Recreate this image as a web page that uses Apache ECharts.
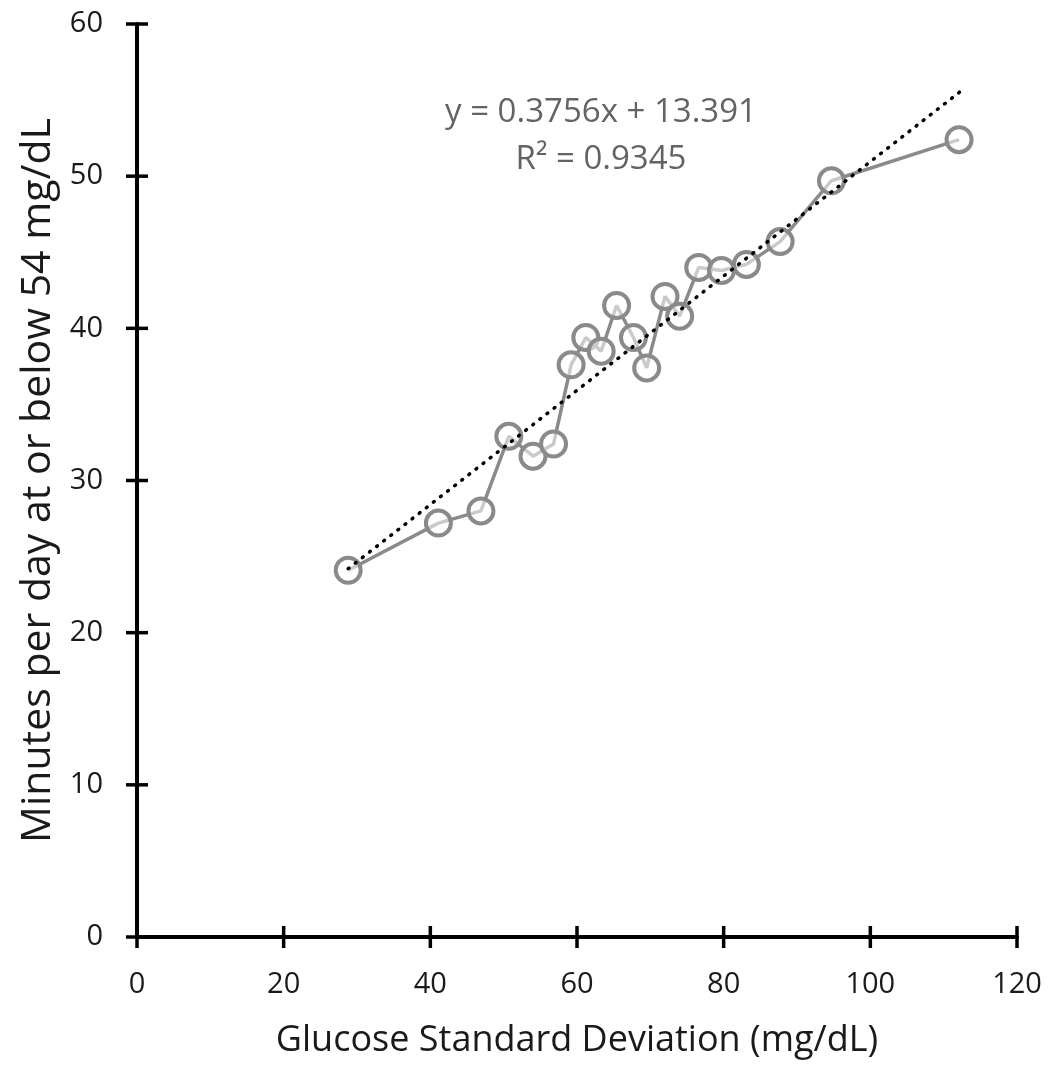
<!DOCTYPE html>
<html>
<head>
<meta charset="utf-8">
<script src="https://cdn.jsdelivr.net/npm/echarts@6/dist/echarts.min.js"></script>
<style>
html,body{margin:0;padding:0;background:#fff;}
#chart{width:1052px;height:1068px;}
</style>
</head>
<body>
<div id="chart"></div>
<script>
const glucoseSD = [28.8, 41.1, 46.9, 50.7, 54.0, 56.8, 59.2, 61.2, 63.3, 65.4, 67.7, 69.5, 72.0, 74.0, 76.6, 79.7, 83.1, 87.7, 94.7, 112.1];
const minutesBelow54 = [24.1, 27.2, 28.0, 32.9, 31.6, 32.4, 37.6, 39.4, 38.5, 41.5, 39.4, 37.4, 42.1, 40.8, 44.0, 43.8, 44.2, 45.7, 49.7, 52.4];
const trendSlope = 0.3756;
const trendIntercept = 13.391;
const trendXRange = [28.8, 112.4];
const trendLabels = ['y = 0.3756x + 13.391', 'R² = 0.9345'];
const xTicks = [0, 20, 40, 60, 80, 100, 120];
const yTicks = [0, 10, 20, 30, 40, 50, 60];
const xTitle = 'Glucose Standard Deviation (mg/dL)';
const yTitle = 'Minutes per day at or below 54 mg/dL';

const points = glucoseSD.map((x, i) => [x, minutesBelow54[i]]);
const trend = trendXRange.map(x => [x, trendSlope * x + trendIntercept]);
const tickData = xTicks.map(v => [v, 0, 0]).concat(yTicks.map(v => [0, v, 1]));

const chart = echarts.init(document.getElementById('chart'));
const font = '"Open Sans", sans-serif';
const axisLine = {show: true, lineStyle: {color: '#000', width: 4}};
chart.setOption({
  animation: false,
  backgroundColor: '#fff',
  grid: {left: 137, right: 35, top: 24, bottom: 131},
  xAxis: {
    type: 'value', min: 0, max: 120, interval: 20,
    name: xTitle, nameLocation: 'middle', nameGap: 86,
    nameTextStyle: {fontFamily: font, fontSize: 36, color: '#1a1a1a'},
    axisLine: axisLine,
    axisTick: {show: false},
    axisLabel: {fontFamily: font, fontSize: 29, color: '#1a1a1a', margin: 33},
    splitLine: {show: false}
  },
  yAxis: {
    type: 'value', min: 0, max: 60, interval: 10,
    name: yTitle, nameLocation: 'middle', nameGap: 76,
    nameTextStyle: {fontFamily: font, fontSize: 41, color: '#1a1a1a'},
    axisLine: axisLine,
    axisTick: {show: false},
    axisLabel: {fontFamily: font, fontSize: 29, color: '#1a1a1a', margin: 34},
    splitLine: {show: false}
  },
  series: [
    {
      type: 'custom', data: tickData, clip: false, silent: true, z: 10,
      renderItem: function (params, api) {
        const p = api.coord([api.value(0), api.value(1)]);
        const isY = api.value(2) === 1;
        const half = 11;
        return {
          type: 'line',
          shape: isY ? {x1: p[0] - half, y1: p[1], x2: p[0] + half, y2: p[1]}
                     : {x1: p[0], y1: p[1] - half, x2: p[0], y2: p[1] + half},
          style: {stroke: '#000', lineWidth: 3.5}
        };
      }
    },
    {
      type: 'line', data: points, symbol: 'circle', symbolSize: 25,
      lineStyle: {color: '#8a8a8a', width: 3.5},
      itemStyle: {color: 'rgba(255,255,255,0.55)', borderColor: '#8a8a8a', borderWidth: 4},
      z: 3
    },
    {
      type: 'line', data: trend, symbol: 'none',
      lineStyle: {color: '#000', width: 3.5, type: [1, 8], cap: 'round'},
      z: 4
    }
  ],
  graphic: [
    {type: 'text', x: 601, y: 113, style: {text: trendLabels[0], font: '33px "Open Sans", sans-serif', fill: '#636363', align: 'center', verticalAlign: 'middle'}},
    {type: 'text', x: 601, y: 160, style: {text: trendLabels[1], font: '33px "Open Sans", sans-serif', fill: '#636363', align: 'center', verticalAlign: 'middle'}}
  ]
});
</script>
</body>
</html>
